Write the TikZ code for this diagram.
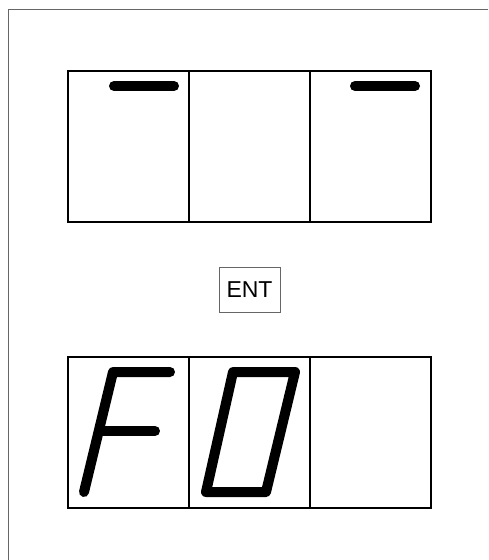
\documentclass[tikz,border=0pt]{standalone}
\usepackage{fontspec}
\setmainfont{Liberation Sans}
\tikzset{
  cell/.style={draw,line width=1.2pt,minimum width=121pt,minimum height=151pt,inner sep=0pt},
  seg/.style={line width=10pt,line cap=round,line join=round},
  keybox/.style={draw=black!60,line width=0.9pt,minimum width=61pt,minimum height=45pt,inner sep=0pt,font=\fontsize{23}{23}\selectfont}
}
\begin{document}
\begin{tikzpicture}[x=1pt,y=-1pt]
\useasboundingbox (0,0) rectangle (488,560);
\draw[black!60,line width=1pt] (8,560) -- (8,9) -- (488,9);
% upper display
\node[cell] (t1) at (128.5,146.5) {};
\node[cell] (t2) at (249.5,146.5) {};
\node[cell] (t3) at (370.5,146.5) {};
\draw[seg] (114,86) -- (174,86);
\draw[seg] (355,86) -- (415,86);
% key
\node[keybox] (ent) at (249.5,289.5) {ENT};
% lower display
\node[cell] (b1) at (128.5,432.5) {};
\node[cell] (b2) at (249.5,432.5) {};
\node[cell] (b3) at (370.5,432.5) {};
\draw[seg] (170,372) -- (113,372) -- (84,492);
\draw[seg] (99,431) -- (155,431);
\draw[seg] (233,372) -- (295,372) -- (266,492) -- (206,492) -- cycle;
\end{tikzpicture}
\end{document}
